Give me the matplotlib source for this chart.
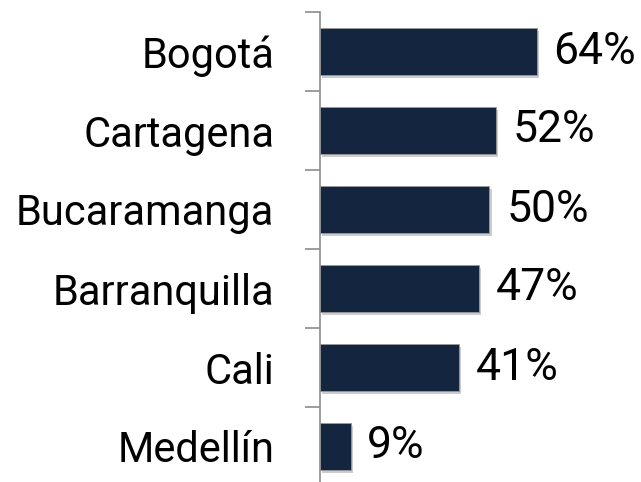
import matplotlib.pyplot as plt

plt.rcParams['font.family'] = ['Roboto', 'DejaVu Sans']

# datos
ciudades = ['Bogotá', 'Cartagena', 'Bucaramanga', 'Barranquilla', 'Cali', 'Medellín']
valores = [64, 52, 50, 47, 41, 9]
etiquetas = ['64%', '52%', '50%', '47%', '41%', '9%']

color_barra = '#14263f'
gris = '#8c8c8c'

fig = plt.figure(figsize=(6.41, 4.82), dpi=100)
ax = fig.add_axes([320 / 641, -4 / 482, 1 - 320 / 641, 474 / 482])

pos = list(range(len(ciudades)))

# sombra leve debajo de las barras
ax.barh([p + 0.035 for p in pos], valores, height=0.6, left=0.6,
        color='#cccccc', edgecolor='none', zorder=1)
ax.barh(pos, valores, height=0.6, color=color_barra,
        edgecolor='#9a9a9a', linewidth=0.6, zorder=2)

for p, v, t in zip(pos, valores, etiquetas):
    ax.annotate(t, (v, p), xytext=(12, 0), textcoords='offset points',
                ha='left', va='center', fontsize=32, color='black')

ax.set_xlim(0, 94.7)
ax.set_ylim(len(ciudades) - 0.5, -0.5)

ax.set_yticks(pos)
ax.set_yticklabels(ciudades, fontsize=30)
ax.tick_params(axis='y', which='major', length=0, pad=33)
ax.set_yticks([p - 0.5 for p in pos] + [len(pos) - 0.5], minor=True)
ax.tick_params(axis='y', which='minor', length=11, width=1.2, color=gris)
ax.set_xticks([])

for lado in ['top', 'right', 'bottom']:
    ax.spines[lado].set_visible(False)
ax.spines['left'].set_color(gris)
ax.spines['left'].set_linewidth(1.2)

fig.savefig('out.png', dpi=100)
